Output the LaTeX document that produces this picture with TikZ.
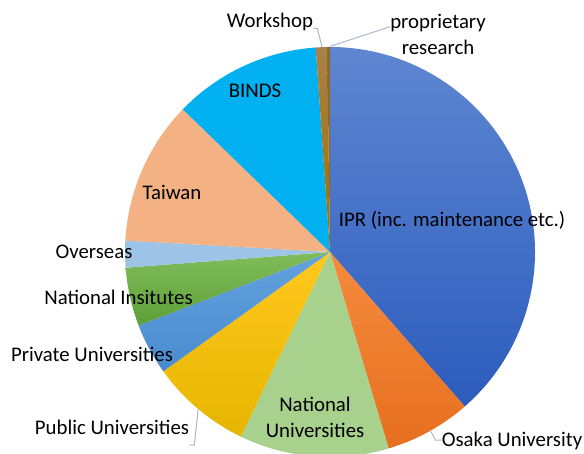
\documentclass[tikz,border=0pt]{standalone}
\usepackage{fontspec}
\setmainfont{Carlito}
\definecolor{ipr1}{HTML}{5E86D1}
\definecolor{ipr2}{HTML}{2C5CBD}
\definecolor{osa1}{HTML}{F58B3E}
\definecolor{osa2}{HTML}{E66F1E}
\definecolor{natu}{HTML}{A9D18E}
\definecolor{pub1}{HTML}{FFC81E}
\definecolor{pub2}{HTML}{E6B500}
\definecolor{pri1}{HTML}{62A2DE}
\definecolor{pri2}{HTML}{4A8BCF}
\definecolor{ins1}{HTML}{80BD5A}
\definecolor{ins2}{HTML}{5E9F38}
\definecolor{ovs}{HTML}{9DC3E6}
\definecolor{twn}{HTML}{F4B183}
\definecolor{binds}{HTML}{00B0F0}
\definecolor{wsh1}{HTML}{A98147}
\definecolor{wsh2}{HTML}{9C7000}
\definecolor{prop}{HTML}{8A6A2E}
\definecolor{leader}{HTML}{A8B9CE}
\newcommand\mywedge[4]{%
  \shade[top color=#3, bottom color=#4] (c) -- ++({90-#1}:205)
    arc[start angle={90-#1}, end angle={90-#2}, radius=205] -- cycle;}
\begin{document}
\begin{tikzpicture}[x=0.75pt,y=0.75pt,
  lbl/.style={inner sep=0pt, font=\fontsize{15.6pt}{19.5pt}\selectfont, text=black},
  lead/.style={draw=leader, line width=0.75pt}]
\useasboundingbox (0,0) rectangle (584,453);
\coordinate (c) at (330,201);
\mywedge{0}{138.9}{ipr1}{ipr2}
\mywedge{138.9}{163.4}{osa1}{osa2}
\mywedge{163.4}{205.8}{natu}{natu}
\mywedge{205.8}{234.4}{pub1}{pub2}
\mywedge{234.4}{249}{pri1}{pri2}
\mywedge{249}{265.6}{ins1}{ins2}
\mywedge{265.6}{273.2}{ovs}{ovs}
\mywedge{273.2}{314.1}{twn}{twn}
\mywedge{314.1}{356}{binds}{binds}
\mywedge{356}{359.2}{wsh1}{wsh2}
\mywedge{359.2}{360}{prop}{prop}
% labels
\node[lbl] (ipr) at (452,233) {IPR (inc. maintenance etc.)};
\node[lbl] (osaka) at (512,12) {Osaka University};
\node[lbl, align=center] (natu) at (315,36) {National\\Universities};
\node[lbl] (pub) at (112,26) {Public Universities};
\node[lbl] (pri) at (92,99) {Private Universities};
\node[lbl] (ins) at (118.5,156) {National Insitutes};
\node[lbl] (ovs) at (94,201) {Overseas};
\node[lbl] (twn) at (172,261) {Taiwan};
\node[lbl] (binds) at (255,362) {BINDS};
\node[lbl] (wsh) at (270,431) {Workshop};
\node[lbl, align=center] (prop) at (438,419) {proprietary\\research};
% leader end points on slices
\coordinate (pwsh) at (322,406);
\coordinate (pprop) at (330,406.5);
\coordinate (ppub) at (198.3,44.7);
\coordinate (posa) at (430,23);
\draw[lead] (wsh.east |- 0,424.7) -- ++(4,0) -- (pwsh);
\draw[lead] (prop.west |- 0,426.3) -- (pprop);
\draw[lead] (pub.east |- 0,8) -- ++(5,0) -- (ppub);
\draw[lead] (osaka.west |- 0,13) -- ++(-6,0) -- (posa);
\end{tikzpicture}
\end{document}
